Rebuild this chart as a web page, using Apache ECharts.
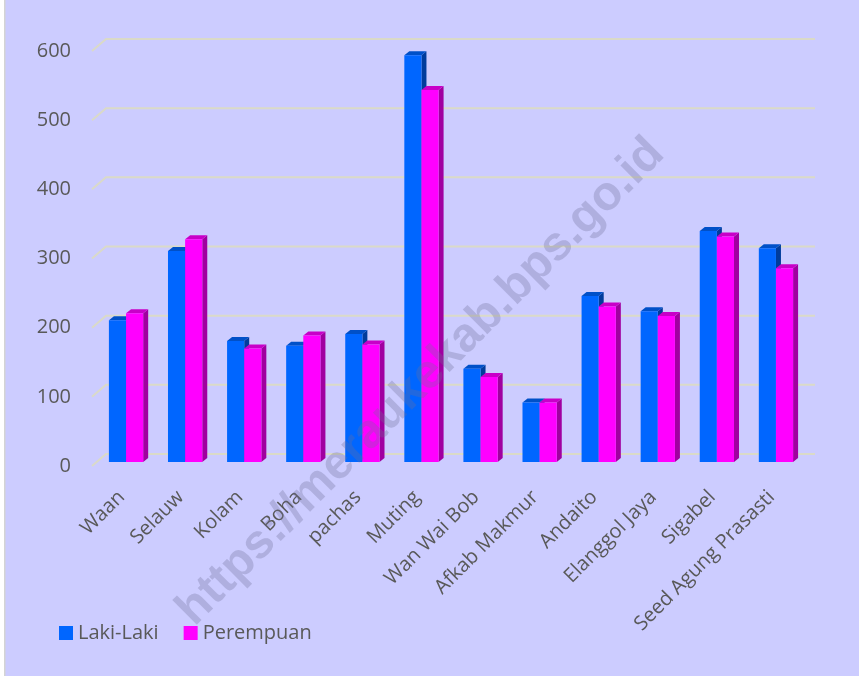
<!DOCTYPE html>
<html>
<head>
<meta charset="utf-8">
<script src="https://cdn.jsdelivr.net/npm/echarts@6/dist/echarts.min.js"></script>
<style>
  html, body { margin: 0; padding: 0; background: #ffffff; }
  #chart { width: 859px; height: 676px; }
</style>
</head>
<body>
<div id="chart"></div>
<script>
const categories = ['Waan', 'Selauw', 'Kolam', 'Boha', 'pachas', 'Muting', 'Wan Wai Bob', 'Afkab Makmur', 'Andaito', 'Elanggol Jaya', 'Sigabel', 'Seed Agung Prasasti'];
const lakiLaki  = [205, 305, 175, 168, 185, 588, 135, 86, 240, 218, 334, 309];
const perempuan = [215, 322, 164, 183, 170, 538, 123, 86, 225, 211, 326, 280];
const yTicks = [0, 100, 200, 300, 400, 500, 600];

const FONT = '"Open Sans", "Noto Sans", sans-serif';
const TEXT = '#595959';

// pseudo-3D geometry (pixels)
const PLANE_DX = 4.5, PLANE_DY = 4;   // bar plane offset from the front plane
const DEPTH_DX = 5, DEPTH_DY = 4;     // bar depth
const WALL_DX = 14, WALL_DY = 12;     // back wall offset

function barRenderer(sideIdx, front, top, side) {
  return function (params, api) {
    const i = api.value(0), v = api.value(1);
    const base = api.coord([i, 0]);
    const tp = api.coord([i, v]);
    const bw = api.size([1, 0])[0] * 0.29;
    const cx = base[0] + PLANE_DX;
    const x0 = sideIdx === 0 ? cx - bw : cx;
    const x1 = x0 + bw;
    const yb = base[1] - PLANE_DY;
    const yt = tp[1] - PLANE_DY;
    return {
      type: 'group',
      children: [
        { type: 'polygon', shape: { points: [[x1, yt], [x1 + DEPTH_DX, yt - DEPTH_DY], [x1 + DEPTH_DX, yb - DEPTH_DY], [x1, yb]] }, style: { fill: side } },
        { type: 'polygon', shape: { points: [[x0, yt], [x0 + DEPTH_DX, yt - DEPTH_DY], [x1 + DEPTH_DX, yt - DEPTH_DY], [x1, yt]] }, style: { fill: top } },
        { type: 'rect', shape: { x: x0, y: yt, width: bw, height: yb - yt }, style: { fill: front } }
      ]
    };
  };
}

function wallRenderer(params, api) {
  const v = api.value(1);
  const p = api.coord([0, v]);
  const gx = params.coordSys.x;
  const gw = params.coordSys.width;
  const y = p[1];
  return {
    type: 'polyline',
    shape: { points: [[gx, y], [gx + WALL_DX, y - WALL_DY], [gx + gw + WALL_DX, y - WALL_DY]] },
    style: { stroke: '#dadac8', lineWidth: 2, fill: null }
  };
}

const chart = echarts.init(document.getElementById('chart'), null, { renderer: 'canvas' });
chart.setOption({
  backgroundColor: '#CCCCFF',
  animation: false,
  grid: { left: 92, right: 58, top: 51, bottom: 210, outerBoundsMode: 'none', containLabel: false },
  legend: {
    data: ['Laki-Laki', 'Perempuan'],
    left: 54, top: 618,
    icon: 'rect', itemWidth: 14, itemHeight: 14, itemGap: 25,
    textStyle: { fontFamily: FONT, fontSize: 20, color: TEXT }
  },
  xAxis: {
    type: 'category',
    data: categories,
    axisLine: { show: false },
    axisTick: { show: false },
    splitLine: { show: false },
    axisLabel: {
      rotate: 45, interval: 0, margin: 28, padding: [20, 0, 0, 0],
      fontFamily: FONT, fontSize: 20, color: TEXT
    }
  },
  yAxis: {
    type: 'value', min: 0, max: 600, interval: 100,
    axisLine: { show: false }, axisTick: { show: false }, splitLine: { show: false },
    axisLabel: { margin: 21, fontFamily: FONT, fontSize: 20, color: TEXT }
  },
  graphic: [
    { type: 'rect', left: 0, top: 0, shape: { width: 4, height: 676 }, style: { fill: '#ffffff' }, z: 100 },
    { type: 'rect', left: 4, top: 0, shape: { width: 1.5, height: 676 }, style: { fill: '#d4d4d4' }, z: 100 },
    {
      type: 'text', x: 421, y: 382, rotation: Math.PI / 4, z: 100,
      style: {
        text: 'https://meraukekab.bps.go.id',
        font: 'bold 48px "Liberation Sans", Arial, sans-serif',
        fill: 'rgba(110,110,150,0.30)',
        align: 'center', verticalAlign: 'middle'
      }
    }
  ],
  series: [
    {
      name: 'wall', type: 'custom', renderItem: wallRenderer, silent: true, z: 1,
      data: yTicks.map(t => [0, t]), encode: { x: 0, y: 1 }
    },
    {
      name: 'Laki-Laki', type: 'custom', z: 2,
      itemStyle: { color: '#0066FF' },
      renderItem: barRenderer(0, '#0066FF', '#0050C8', '#003C9C'),
      data: lakiLaki.map((v, i) => [i, v]), encode: { x: 0, y: 1 }
    },
    {
      name: 'Perempuan', type: 'custom', z: 3,
      itemStyle: { color: '#FF00FF' },
      renderItem: barRenderer(1, '#FF00FF', '#C800C8', '#A000A0'),
      data: perempuan.map((v, i) => [i, v]), encode: { x: 0, y: 1 }
    }
  ]
});
</script>
</body>
</html>
